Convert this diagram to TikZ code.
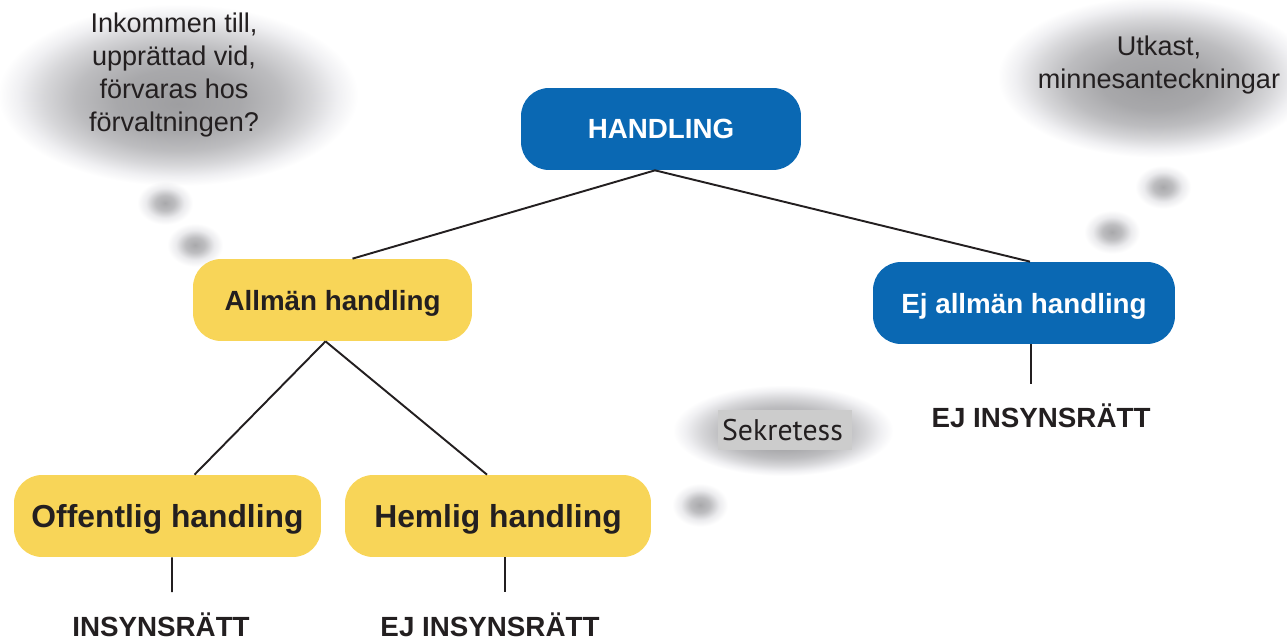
\documentclass[tikz,border=0pt]{standalone}
\usepackage{fontspec}
\setmainfont{Liberation Sans}
\newfontfamily\sekrfont{PT Sans}
\usetikzlibrary{calc}
\definecolor{handblue}{RGB}{10,104,179}
\definecolor{gold}{RGB}{248,213,88}
\definecolor{ink}{RGB}{35,31,32}
\pgfdeclareradialshading{cloud}{\pgfpoint{0bp}{-5bp}}{rgb(0bp)=(0.62,0.62,0.63); rgb(6bp)=(0.66,0.66,0.67); rgb(10bp)=(0.74,0.74,0.75); rgb(13bp)=(0.84,0.84,0.85); rgb(15.5bp)=(0.94,0.94,0.95); rgb(17.5bp)=(1,1,1); rgb(50bp)=(1,1,1)}
\pgfdeclareradialshading{puff}{\pgfpoint{0bp}{0bp}}{rgb(0bp)=(0.66,0.66,0.67); rgb(6bp)=(0.74,0.74,0.75); rgb(12bp)=(0.92,0.92,0.93); rgb(17.5bp)=(1,1,1); rgb(50bp)=(1,1,1)}

\tikzset{
  cloudshade/.style={shading=cloud, blend mode=multiply},
  puffshade/.style={shading=puff, blend mode=multiply},
  roundbox/.style={rectangle, rounded corners=0.56cm, minimum height=1.64cm,
    text depth=0pt, font=\bfseries\fontsize{15.8}{19}\selectfont, text=ink},
  bluebox/.style={roundbox, fill=handblue, text=white},
  goldbox/.style={roundbox, fill=gold},
  rights/.style={font=\bfseries\fontsize{15.8}{19}\selectfont, text=ink},
  thought/.style={align=center, font=\fontsize{15.4}{18.8}\selectfont, text=ink},
  link/.style={line width=1.1pt, draw=ink}
}

\begin{document}
\begin{tikzpicture}[x=0.02cm, y=-0.02cm]
  \useasboundingbox (0,0) rectangle (1287,641);

  % thought clouds
  \shade[cloudshade] (178,78) ellipse (5.15cm and 2.6cm);
  \shade[puffshade] (165,203) ellipse (0.8cm and 0.62cm);
  \shade[puffshade] (195,245) ellipse (0.8cm and 0.62cm);
  \shade[cloudshade] (1155,62) ellipse (4.5cm and 2.3cm);
  \shade[puffshade] (1163,187) ellipse (0.8cm and 0.62cm);
  \shade[puffshade] (1112,232) ellipse (0.8cm and 0.62cm);
  \shade[cloudshade] (783,422) ellipse (3.15cm and 1.3cm);
  \shade[puffshade] (700,505) ellipse (0.8cm and 0.62cm);

  \node[thought] (incoming) at (174,75) {Inkommen till,\\upprättad vid,\\förvaras hos\\förvaltningen?};
  \node[thought] (draft) at (1159,65) {Utkast,\\minnesanteckningar};
  \node[font=\sekrfont\fontsize{17}{20}\selectfont, text=ink, fill=black!20,
    text width=2.52cm, inner xsep=0.08cm, inner ysep=0pt, minimum height=0.82cm,
    align=left] (secrecy) at (785,430) {Sekretess};

  % boxes
  \node[bluebox, minimum width=5.6cm] (handling) at (661,129) {HANDLING};
  \node[goldbox, minimum width=5.58cm] (allman) at (332.5,300) {Allmän handling};
  \node[bluebox, minimum width=6.04cm] (ejallman) at (1024,303) {Ej allmän handling};
  \node[goldbox, minimum width=6.14cm, font=\bfseries\fontsize{18.1}{21}\selectfont] (offentlig) at (167.5,516) {Offentlig handling};
  \node[goldbox, minimum width=6.12cm, font=\bfseries\fontsize{18.1}{21}\selectfont] (hemlig) at (498,516) {Hemlig handling};

  \node[rights] (insyn) at (161,625) {INSYNSRÄTT};
  \node[rights] (ejinsyn) at (490,625) {EJ INSYNSRÄTT};
  \node[rights] (ejinsynb) at (1041,416) {EJ INSYNSRÄTT};

  \coordinate (insynend) at (172,592);
  \coordinate (ejinsynend) at (505,592);
  \coordinate (ejinsynbend) at (1031,384);

  \draw[link] ($(handling.south)+(-6,0)$) -- ($(allman.north)+(20,0)$);
  \draw[link] ($(handling.south)+(-6,0)$) -- ($(ejallman.north)+(6,0)$);
  \draw[link] ($(allman.south)+(-7,0)$) -- ($(offentlig.north)+(27,0)$);
  \draw[link] ($(allman.south)+(-7,0)$) -- ($(hemlig.north)+(-11,0)$);
  \draw[link] ($(offentlig.south)+(4.5,0)$) -- (insynend);
  \draw[link] ($(hemlig.south)+(7,0)$) -- (ejinsynend);
  \draw[link] ($(ejallman.south)+(7,0)$) -- (ejinsynbend);
\end{tikzpicture}
\end{document}
